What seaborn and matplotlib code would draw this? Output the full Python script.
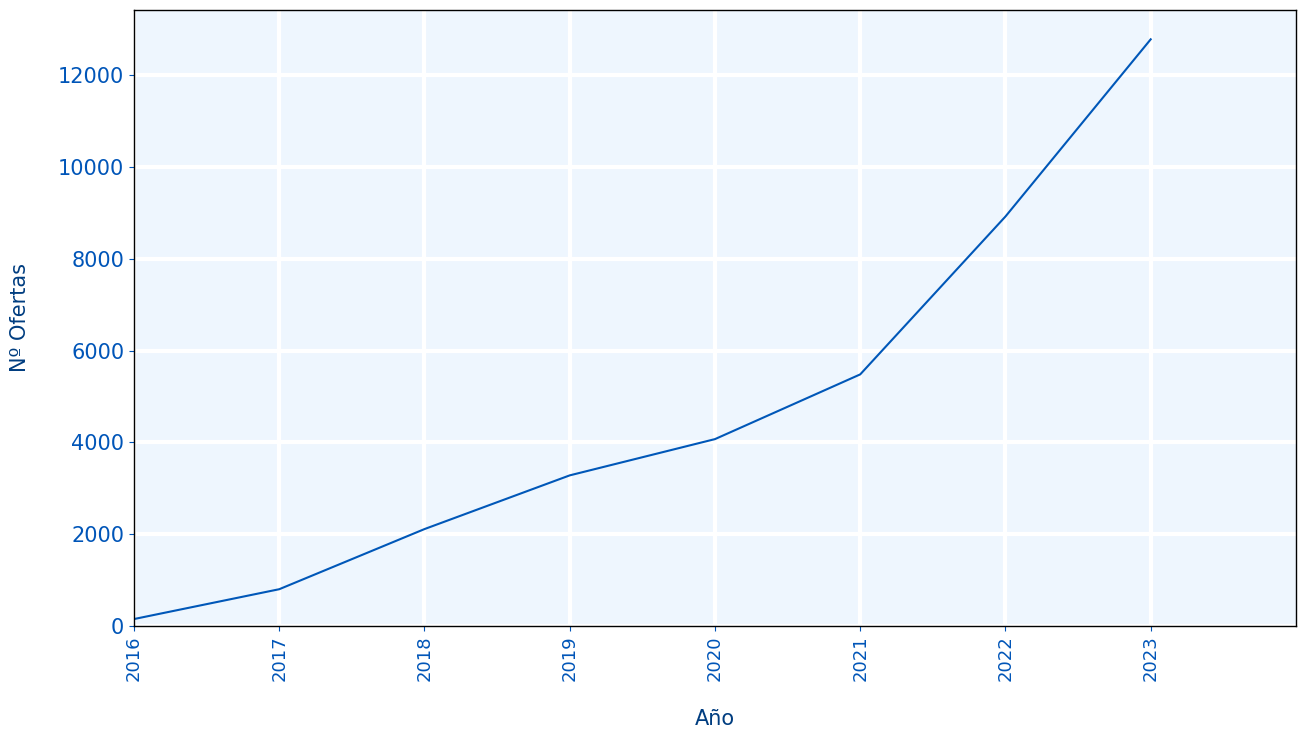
import matplotlib
matplotlib.use("Agg")
import matplotlib.pyplot as plt
import pandas as pd
import seaborn as sns

years = [2016, 2017, 2018, 2019, 2020, 2021, 2022, 2023]
ofertas = [150, 800, 2110, 3280, 4070, 5480, 8920, 12780]

tick_color = "#0055b8"
label_color = "#003d80"

df = pd.DataFrame({"Año": years, "Nº Ofertas": ofertas})

fig, ax = plt.subplots(figsize=(13.06, 7.39), dpi=100)
ax.set_facecolor("#eef6fe")

sns.lineplot(data=df, x="Año", y="Nº Ofertas", ax=ax, color="#0057b8", linewidth=1.5)

ax.grid(True, color="white", linewidth=3)
ax.set_axisbelow(True)
for spine in ax.spines.values():
    spine.set_color("black")
    spine.set_linewidth(1)

ax.set_xlim(2016, 2024)
ax.set_ylim(0, max(ofertas) * 1.05)
ax.set_xticks(years)
ax.set_xticklabels([str(y) for y in years], rotation=90)

ax.tick_params(axis="x", colors=tick_color, labelsize=13)
ax.tick_params(axis="y", colors=tick_color, labelsize=15)

ax.set_xlabel("Año", fontsize=15, color=label_color, labelpad=20)
ax.set_ylabel("Nº Ofertas", fontsize=15, color=label_color, labelpad=20)

fig.subplots_adjust(left=0.1026, right=0.9923, top=0.9865, bottom=0.153)
fig.savefig("out.png", dpi=100)
